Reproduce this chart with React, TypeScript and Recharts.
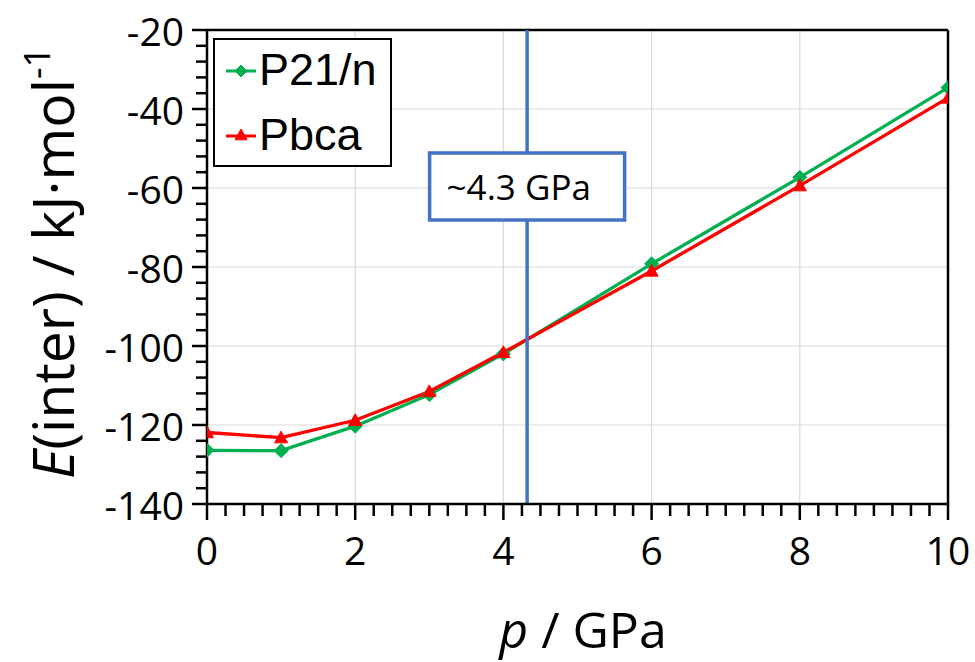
import React from 'react';
import { LineChart, Line, XAxis, YAxis, ReferenceLine, Legend } from 'recharts';

const pressures = [0, 1, 2, 3, 4, 6, 8, 10];
const p21nValues = [-126.4, -126.5, -120.3, -112.3, -102.0, -79.2, -57.3, -34.6];
const pbcaValues = [-121.9, -123.2, -118.8, -111.5, -101.6, -81.0, -59.4, -37.2];

const xMajorTicks = [0, 2, 4, 6, 8, 10];
const xMinorStep = 0.25;
const yMajorTicks = [-140, -120, -100, -80, -60, -40, -20];
const yMinorStep = 4;
const xGrid = [2, 4, 6, 8];
const yGrid = [-120, -100, -80, -60, -40];
const transitionPressure = 4.32;
const transitionLabel = '~4.3 GPa';
const seriesNames = ['P21/n', 'Pbca'];

const xAllTicks = Array.from({ length: Math.round(10 / xMinorStep) + 1 }, (_, i) => i * xMinorStep);
const yAllTicks = Array.from({ length: Math.round(120 / yMinorStep) + 1 }, (_, i) => -140 + i * yMinorStep);

const data = pressures.map((p, i) => ({ p, p21n: p21nValues[i], pbca: pbcaValues[i] }));

const GREEN = '#00B050';
const RED = '#FF0000';
const BLUE = '#4472C4';
const TICK_FONT = "'Open Sans', sans-serif";

const near = (a: number, list: number[]) => list.some((v) => Math.abs(v - a) < 1e-6);

const XTick = (props: any) => {
  const { x, y, payload } = props;
  const v = payload.value;
  const major = near(v, xMajorTicks);
  return (
    <g>
      <line x1={x} x2={x} y1={y} y2={y + (major ? 16 : 12)} stroke="#000" strokeWidth={2.5} />
      {major && (
        <text x={x} y={y + 45} textAnchor="middle" dominantBaseline="central" fontFamily={TICK_FONT} fontSize={39} fill="#000">
          {v}
        </text>
      )}
    </g>
  );
};

const YTick = (props: any) => {
  const { x, y, payload } = props;
  const v = payload.value;
  const major = near(v, yMajorTicks);
  return (
    <g>
      <line x1={x} x2={x - (major ? 15 : 11)} y1={y} y2={y} stroke="#000" strokeWidth={2.5} />
      {major && (
        <text x={x - 23} y={y} textAnchor="end" dominantBaseline="central" fontFamily={TICK_FONT} fontSize={39} fill="#000">
          {v}
        </text>
      )}
    </g>
  );
};

const diamondShape = (cx: number, cy: number, r: number) => (
  <polygon points={`${cx},${cy - r} ${cx + r},${cy} ${cx},${cy + r} ${cx - r},${cy}`} fill={GREEN} stroke={GREEN} strokeWidth={1} />
);
const triangleShape = (cx: number, cy: number, r: number) => (
  <polygon points={`${cx},${cy - r} ${cx + r},${cy + r * 0.8} ${cx - r},${cy + r * 0.8}`} fill={RED} stroke={RED} strokeWidth={1} />
);

const Diamond = (props: any) => {
  const { cx, cy } = props;
  if (cx == null || cy == null) return null;
  return diamondShape(cx, cy, 7);
};

const Triangle = (props: any) => {
  const { cx, cy } = props;
  if (cx == null || cy == null) return null;
  return triangleShape(cx, cy, 6.5);
};

const LegendBox = () => (
  <svg width={180} height={130} style={{ display: 'block' }}>
    <rect x={1} y={1} width={177} height={127} fill="#fff" stroke="#000" strokeWidth={2} />
    <line x1={13} x2={43} y1={33} y2={33} stroke={GREEN} strokeWidth={3} />
    {diamondShape(28, 33, 6)}
    <text x={46} y={47} fontFamily="'Liberation Sans', Arial, sans-serif" fontSize={45} fill="#000">{seriesNames[0]}</text>
    <line x1={13} x2={43} y1={98} y2={98} stroke={RED} strokeWidth={3} />
    {triangleShape(28, 97, 6)}
    <text x={46} y={112} fontFamily="'Liberation Sans', Arial, sans-serif" fontSize={45} fill="#000">{seriesNames[1]}</text>
  </svg>
);

const TransitionLabel = (props: any) => {
  const vb = props.viewBox || {};
  const cx = vb.x;
  const top = vb.y;
  const w = 195;
  const h = 67;
  return (
    <g>
      <rect x={cx - w / 2} y={top + 123} width={w} height={h} fill="#fff" stroke={BLUE} strokeWidth={3.5} />
      <text x={cx - w / 2 + 17} y={top + 170} fontFamily={TICK_FONT} fontSize={35} fill="#000">{transitionLabel}</text>
    </g>
  );
};

const AxisTitles = () => (
  <g>
    <text transform="rotate(-90, 74, 263)" x={74} y={263} textAnchor="middle" fontFamily={TICK_FONT} fontSize={57} fill="#000">
      <tspan fontStyle="italic">E</tspan>
      <tspan>(inter) / kJ·mol</tspan>
      <tspan fontSize={36} dy={-24}>-1</tspan>
    </text>
    <text x={583} y={648} textAnchor="middle" fontFamily={TICK_FONT} fontSize={50} fill="#000">
      <tspan fontStyle="italic">p</tspan>
      <tspan> / GPa</tspan>
    </text>
  </g>
);

export default function App() {
  return (
    <div style={{ position: 'absolute', left: 0, top: 0, background: '#fff' }}>
      <LineChart width={975} height={662} data={data} margin={{ top: 30, right: 27, bottom: 78, left: 0 }}>
        {xGrid.map((v) => (
          <ReferenceLine key={`gx${v}`} x={v} stroke="#D9D9D9" strokeWidth={1.2} />
        ))}
        {yGrid.map((v) => (
          <ReferenceLine key={`gy${v}`} y={v} stroke="#D9D9D9" strokeWidth={1.2} />
        ))}
        <ReferenceLine y={-20} stroke="#000" strokeWidth={2.5} />
        <ReferenceLine x={10} stroke="#000" strokeWidth={2.5} />
        <XAxis
          type="number"
          dataKey="p"
          domain={[0, 10]}
          ticks={xAllTicks}
          interval={0}
          tick={<XTick />}
          tickLine={false}
          tickSize={0}
          tickMargin={0}
          axisLine={{ stroke: '#000', strokeWidth: 2.5 }}
          height={80}
          allowDataOverflow
        />
        <YAxis
          type="number"
          domain={[-140, -20]}
          ticks={yAllTicks}
          interval={0}
          tick={<YTick />}
          tickLine={false}
          tickSize={0}
          tickMargin={0}
          axisLine={{ stroke: '#000', strokeWidth: 2.5 }}
          width={207}
          allowDataOverflow
        />
        <Line type="linear" dataKey="p21n" stroke={GREEN} strokeWidth={3.3} dot={<Diamond />} activeDot={false} isAnimationActive={false} />
        <Line type="linear" dataKey="pbca" stroke={RED} strokeWidth={3.3} dot={<Triangle />} activeDot={false} isAnimationActive={false} />
        <ReferenceLine x={transitionPressure} stroke={BLUE} strokeWidth={3.5} label={<TransitionLabel />} />
        <Legend
          layout="vertical"
          align="center"
          verticalAlign="middle"
          content={() => <LegendBox />}
          wrapperStyle={{ position: 'absolute', left: 213, top: 38, width: 180, height: 130 }}
        />
        <ReferenceLine y={-140} stroke="none" label={<AxisTitles />} />
      </LineChart>
    </div>
  );
}
